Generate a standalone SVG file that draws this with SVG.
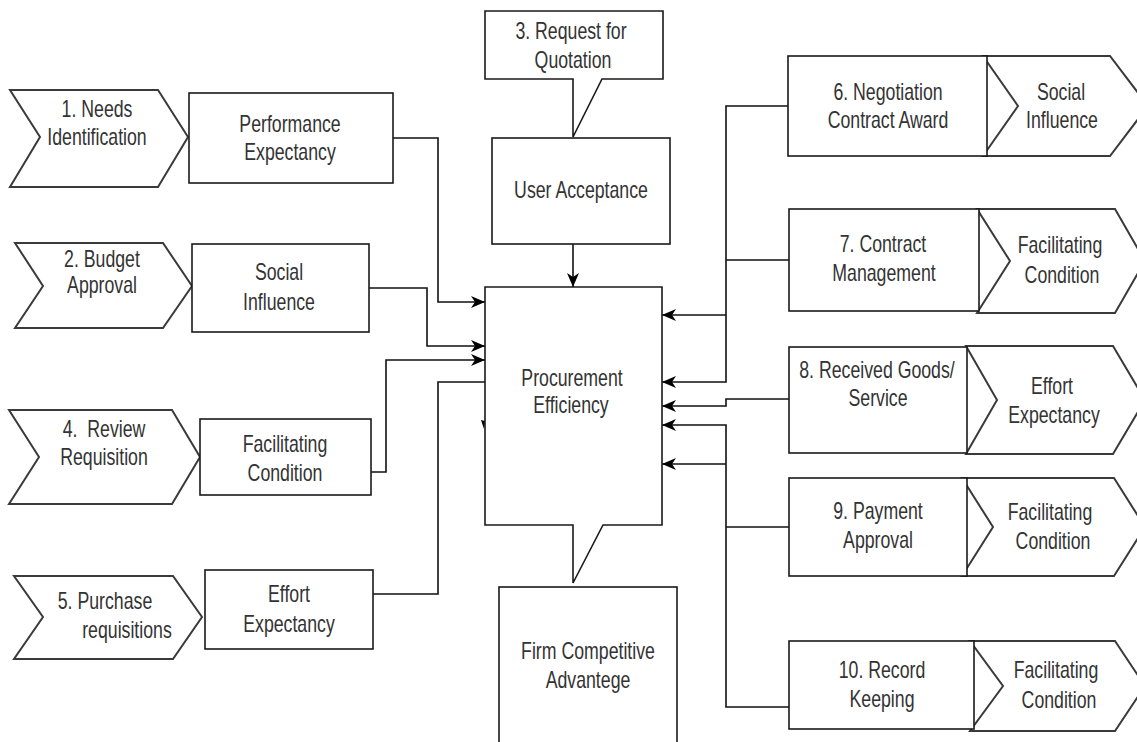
<svg xmlns="http://www.w3.org/2000/svg" width="1137" height="742" viewBox="0 0 1137 742">
<style>
.box{fill:#fff;stroke:#1a1a1a;stroke-width:1.6}
.chev{fill:#fff;stroke:#3a3a3a;stroke-width:2}
.con{fill:none;stroke:#111;stroke-width:1.6}
text{font-family:"Liberation Sans",Arial,sans-serif;font-size:23px;fill:#333;text-anchor:middle}
</style>
<defs>
<marker id="arr" markerUnits="userSpaceOnUse" viewBox="0 0 14 12" refX="14" refY="6" markerWidth="14" markerHeight="12" orient="auto">
<path d="M0,0 L14,6 L0,12 L4,6 z" fill="#000"/>
</marker>
</defs>
<rect width="1137" height="742" fill="#fff"/>

<g id="connectors">
<path class="con" d="M393,138 H438 V302 H485" marker-end="url(#arr)"/>
<path class="con" d="M369,288 H427 V346 H485" marker-end="url(#arr)"/>
<path class="con" d="M371,472 H386 V360 H485" marker-end="url(#arr)"/>
<path class="con" d="M373,594 H438 V382 H485"/>
<path class="con" d="M573,244 V287" marker-end="url(#arr)"/>
<path class="con" d="M788,106 H726 V382 H662" marker-end="url(#arr)"/>
<path class="con" d="M789,260 H726"/>
<path class="con" d="M726,315 H662" marker-end="url(#arr)"/>
<path class="con" d="M789,399 H726 V406 H662" marker-end="url(#arr)"/>
<path class="con" d="M789,707 H726 V425 H662" marker-end="url(#arr)"/>
<path class="con" d="M789,527 H726"/>
<path class="con" d="M726,464 H662" marker-end="url(#arr)"/>
<path d="M481,420 L485,421 L484,429 z" fill="#000"/>
</g>

<g id="n1">
<polygon class="chev" points="10,90 158,90 188,137 158,187 10,187 40,137"/>
<text transform="translate(97,0) scale(0.77,1)" x="0" y="117">1. Needs</text>
<text transform="translate(97,0) scale(0.77,1)" x="0" y="145">Identification</text>
</g>
<g id="pe1">
<rect class="box" x="189" y="93" width="204" height="90"/>
<text transform="translate(290,0) scale(0.77,1)" x="0" y="132">Performance</text>
<text transform="translate(290,0) scale(0.77,1)" x="0" y="160">Expectancy</text>
</g>

<g id="n2">
<polygon class="chev" points="15,243 163,243 192,286 163,328 15,328 43,286"/>
<text transform="translate(102,0) scale(0.77,1)" x="0" y="267">2. Budget</text>
<text transform="translate(102,0) scale(0.77,1)" x="0" y="293">Approval</text>
</g>
<g id="si2">
<rect class="box" x="192" y="244" width="177" height="88"/>
<text transform="translate(279,0) scale(0.77,1)" x="0" y="280">Social</text>
<text transform="translate(279,0) scale(0.77,1)" x="0" y="310">Influence</text>
</g>

<g id="n4">
<polygon class="chev" points="9,410 172,410 200,457 172,504 9,504 39,457"/>
<text transform="translate(104,0) scale(0.77,1)" x="0" y="437" xml:space="preserve">4.  Review</text>
<text transform="translate(104,0) scale(0.77,1)" x="0" y="465">Requisition</text>
</g>
<g id="fc4">
<rect class="box" x="200" y="419" width="171" height="76"/>
<text transform="translate(285,0) scale(0.77,1)" x="0" y="452">Facilitating</text>
<text transform="translate(285,0) scale(0.77,1)" x="0" y="481">Condition</text>
</g>

<g id="n5">
<polygon class="chev" points="14,576 173,576 202,617 173,659 14,659 43,617"/>
<text transform="translate(105,0) scale(0.77,1)" x="0" y="609">5. Purchase</text>
<text transform="translate(127,0) scale(0.77,1)" x="0" y="638">requisitions</text>
</g>
<g id="ee5">
<rect class="box" x="205" y="570" width="168" height="79"/>
<text transform="translate(289,0) scale(0.77,1)" x="0" y="602">Effort</text>
<text transform="translate(289,0) scale(0.77,1)" x="0" y="632">Expectancy</text>
</g>

<g id="n3">
<polygon class="box" points="485,11 663,11 663,79 602,79 573,137 573,79 485,79"/>
<text transform="translate(571,0) scale(0.77,1)" x="0" y="39">3. Request for</text>
<text transform="translate(573,0) scale(0.77,1)" x="0" y="68">Quotation</text>
</g>
<g id="ua">
<rect class="box" x="492" y="138" width="178" height="106"/>
<text transform="translate(581,0) scale(0.77,1)" x="0" y="198">User Acceptance</text>
</g>
<g id="pe">
<polygon class="box" points="485,287 662,287 662,525 603,525 573,583 573,525 485,525"/>
<text transform="translate(572,0) scale(0.77,1)" x="0" y="386">Procurement</text>
<text transform="translate(571,0) scale(0.77,1)" x="0" y="413">Efficiency</text>
</g>
<g id="fca">
<rect class="box" x="499" y="587" width="178" height="170"/>
<text transform="translate(588,0) scale(0.77,1)" x="0" y="659">Firm Competitive</text>
<text transform="translate(588,0) scale(0.77,1)" x="0" y="688">Advantege</text>
</g>

<g id="n6">
<polygon class="chev" points="983,56 1110,56 1148,106 1110,156 983,156 1018,106"/>
<rect class="box" x="788" y="56" width="199" height="100"/>
<text transform="translate(888,0) scale(0.77,1)" x="0" y="100">6. Negotiation</text>
<text transform="translate(888,0) scale(0.77,1)" x="0" y="128">Contract Award</text>
<text transform="translate(1061,0) scale(0.77,1)" x="0" y="100">Social</text>
<text transform="translate(1062,0) scale(0.77,1)" x="0" y="128">Influence</text>
</g>

<g id="n7">
<polygon class="chev" points="977,209 1115,209 1145,261 1115,313 977,313 1010,261"/>
<rect class="box" x="789" y="209" width="190" height="102"/>
<text transform="translate(883,0) scale(0.77,1)" x="0" y="252">7. Contract</text>
<text transform="translate(884,0) scale(0.77,1)" x="0" y="281">Management</text>
<text transform="translate(1060,0) scale(0.77,1)" x="0" y="253">Facilitating</text>
<text transform="translate(1062,0) scale(0.77,1)" x="0" y="283">Condition</text>
</g>

<g id="n8">
<polygon class="chev" points="966,346 1113,346 1145,400 1113,454 966,454 997,400"/>
<rect class="box" x="789" y="347" width="178" height="106"/>
<text transform="translate(877,0) scale(0.77,1)" x="0" y="378">8. Received Goods/</text>
<text transform="translate(878,0) scale(0.77,1)" x="0" y="406">Service</text>
<text transform="translate(1052,0) scale(0.77,1)" x="0" y="394">Effort</text>
<text transform="translate(1054,0) scale(0.77,1)" x="0" y="423">Expectancy</text>
</g>

<g id="n9">
<polygon class="chev" points="962,478 1114,478 1145,527 1114,576 962,576 993,527"/>
<rect class="box" x="789" y="478" width="178" height="98"/>
<text transform="translate(878,0) scale(0.77,1)" x="0" y="519">9. Payment</text>
<text transform="translate(878,0) scale(0.77,1)" x="0" y="548">Approval</text>
<text transform="translate(1050,0) scale(0.77,1)" x="0" y="520">Facilitating</text>
<text transform="translate(1053,0) scale(0.77,1)" x="0" y="549">Condition</text>
</g>

<g id="n10">
<polygon class="chev" points="970,641 1115,641 1145,686 1115,731 970,731 1003,686"/>
<rect class="box" x="789" y="641" width="185" height="88"/>
<text transform="translate(882,0) scale(0.77,1)" x="0" y="678">10. Record</text>
<text transform="translate(882,0) scale(0.77,1)" x="0" y="707">Keeping</text>
<text transform="translate(1056,0) scale(0.77,1)" x="0" y="678">Facilitating</text>
<text transform="translate(1059,0) scale(0.77,1)" x="0" y="708">Condition</text>
</g>
</svg>
